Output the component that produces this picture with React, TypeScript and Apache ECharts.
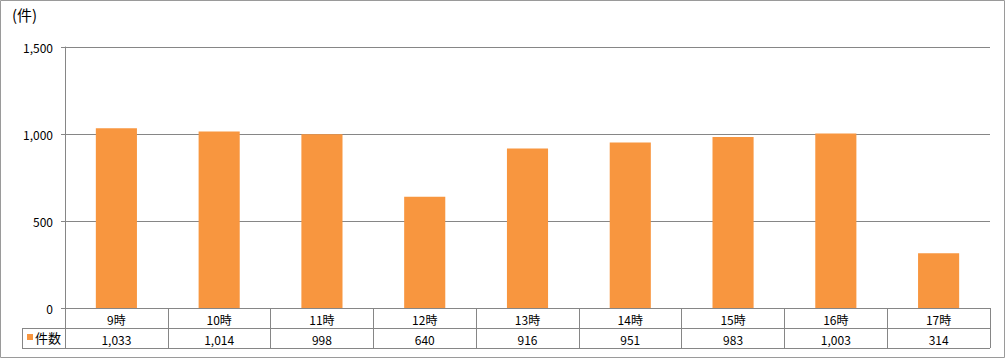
import React, { useEffect, useRef } from "react";
import * as echarts from "echarts";

const categories = ["9時", "10時", "11時", "12時", "13時", "14時", "15時", "16時", "17時"];
const counts = [1033, 1014, 998, 640, 916, 951, 983, 1003, 314];
const seriesName = "件数";
const unitLabel = "(件)";
const yMax = 1500;
const yInterval = 500;

const FONT = "'Noto Sans CJK JP', 'Noto Sans', sans-serif";
const GRID_COLOR = "#868686";
const BAR_COLOR = "#F8963F";

const fmt = (v: number) => v.toLocaleString("en-US");

export default function App() {
  const ref = useRef<HTMLDivElement>(null);
  useEffect(() => {
    document.body.style.margin = "0";
    const chart = echarts.init(ref.current!, null, { renderer: "svg" });
    const L = 65, R = 990, T = 47, B = 308, ROW = 20;
    chart.setOption({
      animation: false,
      backgroundColor: "#ffffff",
      textStyle: { fontFamily: FONT },
      grid: { left: L, right: 1006 - R, top: T, bottom: 359 - B },
      xAxis: [
        {
          type: "category",
          data: categories,
          position: "bottom",
          axisLine: { show: true, lineStyle: { color: GRID_COLOR, width: 1 } },
          axisTick: { show: true, interval: 0, length: ROW * 2, lineStyle: { color: GRID_COLOR } },
          axisLabel: { interval: 0, color: "#000", fontSize: 12, margin: 5, fontFamily: FONT },
        },
        {
          type: "category",
          data: categories,
          position: "bottom",
          offset: ROW,
          axisLine: { show: false },
          axisTick: { show: false },
          axisLabel: {
            interval: 0,
            color: "#000",
            fontSize: 12,
            margin: 5,
            fontFamily: FONT,
            formatter: (_v: string, i: number) => fmt(counts[i]),
          },
        },
      ],
      yAxis: {
        type: "value",
        min: 0,
        max: yMax,
        interval: yInterval,
        axisLine: { show: true, lineStyle: { color: GRID_COLOR } },
        axisTick: { show: true, length: 4, lineStyle: { color: GRID_COLOR } },
        splitLine: { show: true, lineStyle: { color: GRID_COLOR, width: 1 } },
        axisLabel: { color: "#000", fontSize: 12, margin: 12, fontFamily: FONT, formatter: (v: number) => fmt(v) },
      },
      series: [
        {
          name: seriesName,
          type: "bar",
          data: counts,
          barWidth: "40%",
          itemStyle: { color: BAR_COLOR },
        },
      ],
      graphic: [
        {
          type: "rect",
          shape: { x: 0.5, y: 0.5, width: 1004, height: 357 },
          style: { fill: "none", stroke: "#9a9a9a", lineWidth: 1 },
          silent: true,
        },
        {
          type: "text",
          left: 12,
          top: 7,
          style: { text: unitLabel, font: `15px ${FONT}`, fill: "#000" },
        },
        {
          type: "line",
          shape: { x1: 22, y1: B + ROW + 0.5, x2: R, y2: B + ROW + 0.5 },
          style: { stroke: GRID_COLOR, lineWidth: 1 },
        },
        {
          type: "line",
          shape: { x1: 22, y1: B + ROW * 2 + 0.5, x2: R, y2: B + ROW * 2 + 0.5 },
          style: { stroke: GRID_COLOR, lineWidth: 1 },
        },
        {
          type: "line",
          shape: { x1: 22.5, y1: B + ROW, x2: 22.5, y2: B + ROW * 2 },
          style: { stroke: GRID_COLOR, lineWidth: 1 },
        },
        {
          type: "rect",
          shape: { x: 27, y: B + ROW + 6, width: 6, height: 6 },
          style: { fill: BAR_COLOR },
        },
        {
          type: "text",
          x: 35,
          y: B + ROW + 3,
          style: { text: seriesName, font: `13px ${FONT}`, fill: "#000" },
        },
      ],
    });
    return () => chart.dispose();
  }, []);
  return <div ref={ref} style={{ position: "fixed", left: 0, top: 0, width: 1006, height: 359 }} />;
}
